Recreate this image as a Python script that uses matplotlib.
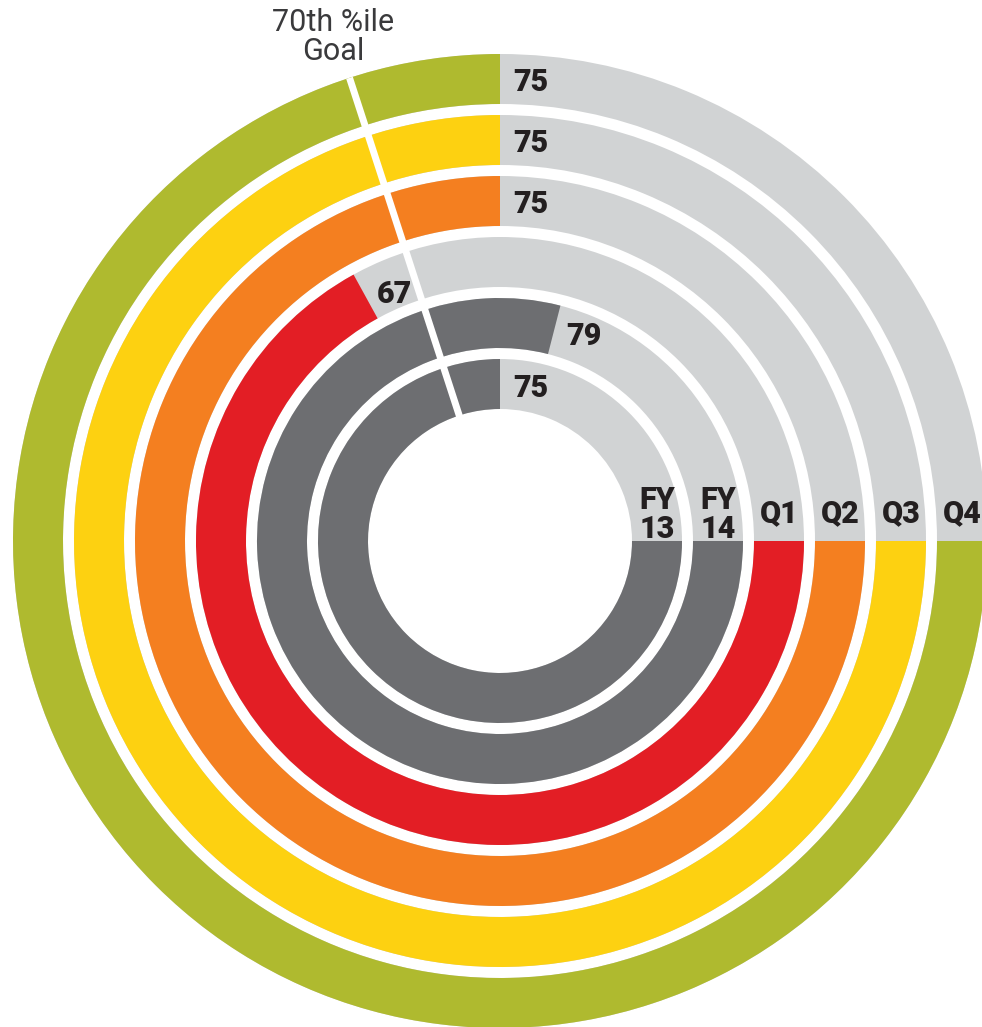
import numpy as np
import matplotlib
matplotlib.use('Agg')
import matplotlib.pyplot as plt
from matplotlib.transforms import offset_copy

categories = ['FY\n13', 'FY\n14', 'Q1', 'Q2', 'Q3', 'Q4']
values = [75, 79, 67, 75, 75, 75]
goal = 70
goal_label = '70th %ile\nGoal'
colors = ['#6d6e71', '#6d6e71', '#e31e25', '#f47f20', '#fdd111', '#afba2f']
track_color = '#d1d3d4'
text_color = '#231f20'

W, H = 982, 1027
fig = plt.figure(figsize=(W / 100, H / 100), dpi=100)
cx, cy, R = 500, 541, 490
ax = fig.add_axes([(cx - R) / W, (H - cy - R) / H, 2 * R / W, 2 * R / H], projection='polar')
ax.set_theta_zero_location('E')
ax.set_theta_direction(-1)
ax.set_ylim(0, R)
ax.axis('off')

r0, ring_w, pitch = 132, 50, 61
full = 2 * np.pi


def ang(v):
    return v / 100 * full


for i, (cat, v, c) in enumerate(zip(categories, values, colors)):
    rin = r0 + pitch * i
    rmid = rin + ring_w / 2
    ax.bar(0, ring_w, width=full, bottom=rin, align='edge', color=track_color, linewidth=0)
    ax.bar(0, ring_w, width=ang(v), bottom=rin, align='edge', color=c, linewidth=0)
    ax.text(ang(v) + 13 / rmid, rmid, str(v), ha='left', va='center_baseline',
            fontsize=22, fontweight='black', family='Roboto', color=text_color)
    dy = 3 if '\n' in cat else 19
    tr = offset_copy(ax.transData, fig=fig, x=0, y=dy, units='dots')
    ax.text(0, rmid, cat, transform=tr, ha='center', va='baseline', fontsize=22,
            fontweight='black', family='Roboto', color=text_color, linespacing=0.95)

ax.plot([ang(goal), ang(goal)], [0, r0 + pitch * 5 + ring_w], color='white', lw=5,
        solid_capstyle='butt', zorder=5)

fig.text(333 / W, 1 - 37 / H, goal_label, ha='center', va='center', fontsize=22,
         fontweight='normal', family='Roboto', color='#3a3a3c', linespacing=1.02)

fig.savefig('out.png', dpi=100)
